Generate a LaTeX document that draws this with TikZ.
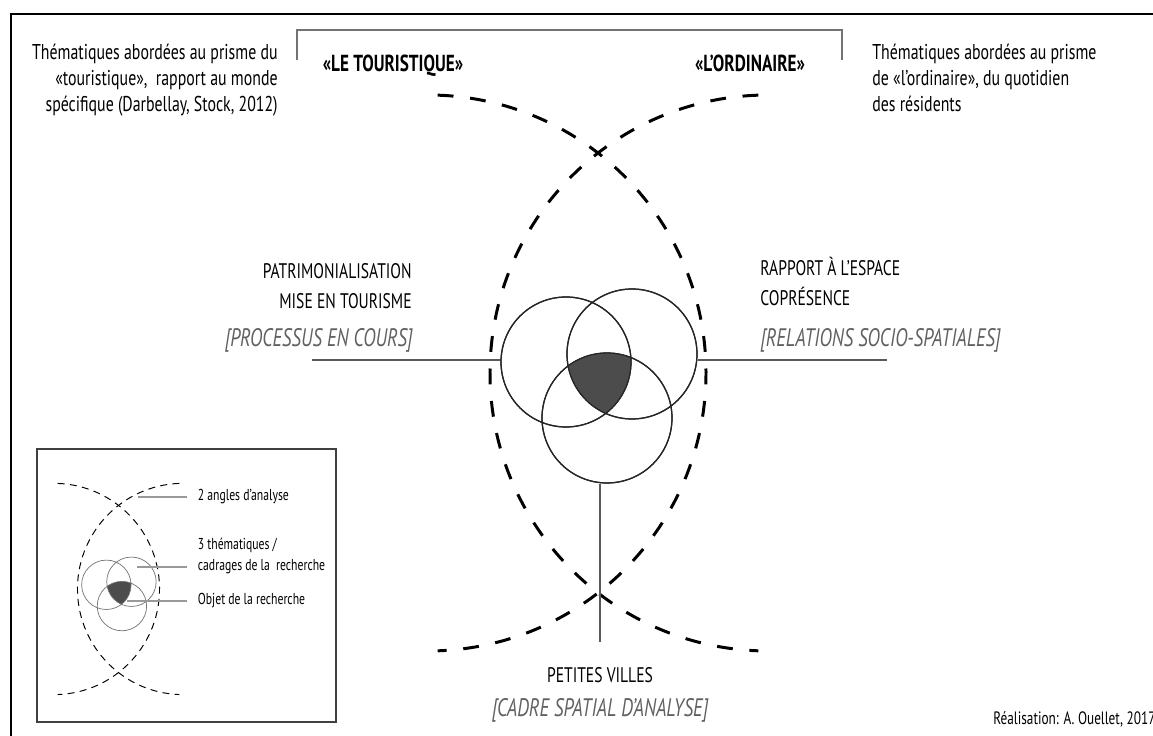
\documentclass[tikz,border=0pt]{standalone}
\usepackage{fontspec}
\setmainfont[FakeStretch=0.74]{PT Sans}
\usepackage{tikz}
\usetikzlibrary{positioning}

\begin{document}
\begin{tikzpicture}[x=0.02cm, y=0.02cm,
    lens/.style={dash pattern=on 9pt off 9.5pt, line width=1.7pt},
    minilens/.style={dash pattern=on 4pt off 3pt, line width=0.55pt},
    ring/.style={circle, draw=black!85, line width=0.7pt, minimum size=2.6cm, inner sep=0},
    minring/.style={draw=black!55, line width=0.4pt},
    leader/.style={draw=black!65, line width=0.6pt},
    minleader/.style={draw=black!40, line width=0.7pt},
    note/.style={font=\fontsize{12.2}{14.8}\selectfont, inner sep=0},
    theme/.style={font=\fontsize{12}{17}\selectfont, inner sep=0},
    cadre/.style={font=\fontsize{14.4}{16}\selectfont\itshape, text=black!62, inner sep=0},
    prism/.style={font=\fontsize{13.2}{14}\selectfont\bfseries, inner sep=0},
    legtext/.style={font=\fontsize{9}{12.5}\selectfont, inner xsep=6pt, inner ysep=0, align=left}]
  \useasboundingbox (0,0) rectangle (1153,736);

  % cadre general et accolade du haut
  \draw[line width=0.8pt] (11,-10) -- (11,722) -- (1170,722);
  \draw[black!55, line width=0.6pt] (297,676) -- (297,706) -- (842,706) -- (842,676);

  % les deux angles d'analyse
  \node[note, anchor=north east, align=right] (tdesc) at (278,692)
    {Thématiques abordées au prisme du\\«touristique»,~ rapport au monde\\spécifique (Darbellay, Stock, 2012)};
  \node[prism, anchor=base] (tour) at (393,664) {«LE TOURISTIQUE»};
  \node[prism, anchor=base] (ord) at (750,664) {«L’ORDINAIRE»};
  \node[note, anchor=north west, align=left] (odesc) at (872,692)
    {Thématiques abordées au prisme\\de «l’ordinaire», du quotidien\\des résidents};
  \draw[lens] (428,363) ++(88:278) arc[start angle=88, end angle=-88, radius=278];
  \draw[lens] (768,363) ++(92:278) arc[start angle=92, end angle=268, radius=278];

  % les trois thematiques
  \node[ring] (patri) at (566,374) {};
  \node[ring] (espace) at (632,382) {};
  \node[ring] (ville) at (607,318) {};
  \begin{scope}
    \clip (patri.center) circle[radius=65];
    \clip (espace.center) circle[radius=65];
    \fill[black!70] (ville.center) circle[radius=65];
  \end{scope}
  \draw[draw=black!85, line width=0.7pt] (patri.center) circle[radius=65]
    (espace.center) circle[radius=65] (ville.center) circle[radius=65];

  \node[theme, anchor=south east, align=right] (ptext) at (412,427)
    {PATRIMONIALISATION\\MISE EN TOURISME};
  \node[cadre, anchor=base east] (pframe) at (413,389) {[PROCESSUS EN COURS]};
  \coordinate (pl) at (312,376);
  \draw[leader] (pl) -- (pl -| patri.west);

  \node[theme, anchor=south west, align=left] (rtext) at (760,430)
    {RAPPORT À L’ESPACE\\COPRÉSENCE};
  \node[cadre, anchor=base west] (rframe) at (760,389) {[RELATIONS SOCIO-SPATIALES]};
  \coordinate (rl) at (887,376);
  \draw[leader] (rl -| espace.east) -- (rl);

  \node[theme, anchor=base] (vtext) at (600,53) {PETITES VILLES};
  \node[cadre, anchor=base] (vframe) at (600,19) {[CADRE SPATIAL D’ANALYSE]};
  \coordinate (vl) at (600,94);
  \draw[leader] (vl |- ville.south) -- (vl);

  \node[font=\fontsize{10.2}{11}\selectfont, anchor=base west, inner sep=0] (credit) at (993,11)
    {Réalisation: A. Ouellet, 2017};

  % legende
  \draw[black!75, line width=0.6pt] (37,14) rectangle (336,287);
  \begin{scope}[shift={(-108.74,9.06)}, scale=0.38]
    \draw[minilens] (428,363) ++(88:278) arc[start angle=88, end angle=-88, radius=278];
    \draw[minilens] (768,363) ++(92:278) arc[start angle=92, end angle=268, radius=278];
    \coordinate (ipatri) at (566,374);
    \coordinate (iespace) at (632,382);
    \coordinate (iville) at (607,318);
    \begin{scope}
      \clip (ipatri) circle[radius=65];
      \clip (iespace) circle[radius=65];
      \fill[black!70] (iville) circle[radius=65];
    \end{scope}
    \draw[minring] (ipatri) circle[radius=65] (iespace) circle[radius=65] (iville) circle[radius=65];
  \end{scope}

  \node[legtext, anchor=west] (lang) at (187,239) {2 angles d’analyse};
  \node[legtext, anchor=west] (lthem) at (187,180) {3 thématiques /\\cadrages de la~ recherche};
  \node[legtext, anchor=west] (lobj) at (187,135) {Objet de la recherche};
  \coordinate (la) at (138,239);
  \coordinate (lt) at (137,169);
  \coordinate (lo) at (127,135);
  \draw[minleader] (la) -- (lang.west);
  \draw[minleader] (lt) -- (lt -| lthem.west);
  \draw[minleader] (lo) -- (lobj.west);
\end{tikzpicture}
\end{document}
